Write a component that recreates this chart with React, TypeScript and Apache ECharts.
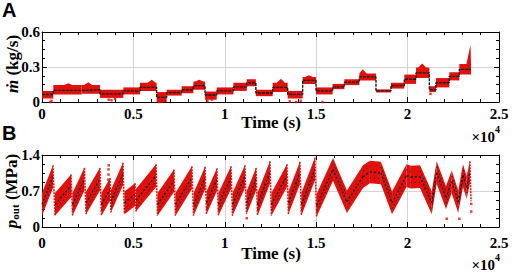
import React, { useEffect, useRef } from 'react';
import * as echarts from 'echarts';

// ---- tick labels ----
const xTickLabels = ['0', '0.5', '1', '1.5', '2', '2.5'];
const aTickLabels = ['0', '0.3', '0.6'];
const bTickLabels = ['0', '0.7', '1.4'];

// ---- Panel A: mass flow rate, piecewise levels (time in s, value in kg/s) ----
const aSegStart = [0, 620, 2170, 3170, 4450, 5360, 6270, 6820, 7640, 8280, 8920, 9560, 10470, 11200, 11700, 12620, 13440, 14260, 14990, 15900, 16540, 17360, 18270, 19090, 19820, 20460, 21190, 21550, 22280, 22830];
const aSegEnd = [620, 2170, 3170, 4450, 5360, 6270, 6820, 7640, 8280, 8920, 9560, 10470, 11200, 11700, 12620, 13440, 14260, 14990, 15900, 16540, 17360, 18270, 19090, 19820, 20460, 21190, 21550, 22280, 22830, 23470];
const aLevel = [0.064, 0.1, 0.105, 0.07, 0.095, 0.125, 0.04, 0.08, 0.105, 0.14, 0.06, 0.095, 0.13, 0.165, 0.077, 0.125, 0.065, 0.185, 0.095, 0.13, 0.17, 0.215, 0.095, 0.14, 0.195, 0.25, 0.105, 0.165, 0.22, 0.28];
const aLow = [0.03, 0.065, 0.07, 0.035, 0.065, 0.095, 0.0, 0.055, 0.075, 0.105, 0.02, 0.065, 0.095, 0.135, 0.05, 0.085, 0.03, 0.155, 0.065, 0.11, 0.145, 0.185, 0.082, 0.115, 0.155, 0.205, 0.085, 0.125, 0.185, 0.235];
const aHigh = [0.095, 0.145, 0.145, 0.105, 0.125, 0.165, 0.085, 0.105, 0.135, 0.175, 0.09, 0.125, 0.165, 0.195, 0.105, 0.165, 0.095, 0.215, 0.125, 0.155, 0.195, 0.245, 0.108, 0.165, 0.235, 0.295, 0.135, 0.205, 0.255, 0.325];
const aPeakT = [310, 1440, 2530, 3800, 4900, 6000, 6540, 7230, 7960, 8600, 9240, 10010, 10830, 11450, 12160, 13070, 13850, 14600, 15440, 16220, 16950, 17540, 18680, 19450, 20140, 20800, 21370, 21910, 22550, 23440];
const aPeak = [0.095, 0.16, 0.17, 0.105, 0.125, 0.19, 0.085, 0.105, 0.135, 0.19, 0.09, 0.125, 0.165, 0.195, 0.105, 0.2, 0.095, 0.23, 0.125, 0.155, 0.195, 0.28, 0.108, 0.165, 0.235, 0.33, 0.135, 0.205, 0.255, 0.49];
const aOutT = [450, 520, 3650, 3800, 4000, 6420, 6550, 9050, 9300, 13550, 13900, 14150, 15350, 21250];
const aOutV = [0.0, 0.01, 0.02, 0.015, 0.025, 0.0, 0.005, 0.01, 0.02, 0.005, 0.0, 0.01, 0.0, 0.07];

// ---- Panel B: outlet pressure, sawtooth vertices (time in s, value in MPa) ----
const bT = [0, 600, 710, 1590, 1670, 2320, 2410, 3170, 3250, 3720, 3770, 4430, 4510, 5090, 5140, 6240, 6320, 7220, 7300, 8200, 8290, 8920, 9000, 9570, 9650, 10340, 10420, 11100, 11190, 11710, 11790, 12470, 12550, 13400, 13480, 14110, 14190, 14930, 15020, 15920, 16680, 17560, 17940, 18540, 19150, 19940, 20180, 20680, 21320, 21590, 22100, 22410, 22770, 23030, 23230, 23410, 23470];
const bP = [0.22, 1.2, 0.22, 1.02, 0.22, 1.15, 0.25, 1.15, 0.22, 0.95, 0.28, 1.25, 0.25, 0.85, 0.3, 1.22, 0.22, 1.12, 0.22, 1.18, 0.22, 1.17, 0.25, 1.14, 0.22, 1.18, 0.22, 1.2, 0.25, 1.15, 0.22, 1.28, 0.22, 1.22, 0.25, 1.27, 0.22, 1.35, 0.2, 1.34, 0.27, 1.2, 0.85, 1.27, 0.25, 1.22, 0.75, 1.2, 0.25, 1.28, 0.35, 1.1, 0.27, 1.22, 0.55, 1.28, 0.5];
const bOutT = [3630, 3630, 3640, 3640, 3650, 11200, 22140, 22830, 23480, 23480];
const bOutV = [0.8, 0.92, 1.02, 1.12, 1.2, 0.17, 0.16, 0.16, 0.3, 0.45];

const RED = '#e0110d';
const SERIF = 'Liberation Serif';
const SANS = 'Liberation Sans';
const B_BAND = 0.44; // vertical spread of the scatter band, MPa

function xAxes(gridIndex: number, margin: number) {
  const common = {
    type: 'value' as const,
    gridIndex,
    min: 0,
    max: 25000,
    interval: 5000,
    axisLine: { show: true, onZero: false, lineStyle: { color: '#000', width: 1 } },
    axisTick: { show: true, inside: true, length: 5, lineStyle: { color: '#000', width: 1 } },
    minorTick: { show: true, splitNumber: 5, length: 3, lineStyle: { color: '#000', width: 1 } },
  };
  return [
    {
      ...common,
      position: 'bottom',
      splitLine: { show: true, lineStyle: { color: '#d4d4d4', width: 1 } },
      axisLabel: {
        show: true,
        margin,
        color: '#000',
        fontFamily: SERIF,
        fontWeight: 'bold',
        fontSize: 15,
        formatter: (v: number) => xTickLabels[Math.round(v / 5000)] ?? '',
      },
    },
    {
      ...common,
      position: 'top',
      splitLine: { show: false },
      axisLabel: { show: false },
    },
  ];
}

function yAxes(gridIndex: number, max: number, interval: number, labels: string[]) {
  const common = {
    type: 'value' as const,
    gridIndex,
    min: 0,
    max,
    interval,
    axisLine: { show: true, onZero: false, lineStyle: { color: '#000', width: 1 } },
    axisTick: { show: true, inside: true, length: 5, lineStyle: { color: '#000', width: 1 } },
    minorTick: { show: true, splitNumber: 4, length: 3, lineStyle: { color: '#000', width: 1 } },
  };
  return [
    {
      ...common,
      position: 'left',
      splitLine: { show: true, lineStyle: { color: '#d4d4d4', width: 1 } },
      axisLabel: {
        show: true,
        margin: 2,
        color: '#000',
        fontFamily: SERIF,
        fontWeight: 'bold',
        fontSize: 15,
        formatter: (v: number) => labels[Math.round(v / interval)] ?? '',
      },
    },
    {
      ...common,
      position: 'right',
      splitLine: { show: false },
      axisLabel: { show: false },
    },
  ];
}

export default function App() {
  const ref = useRef<HTMLDivElement>(null);

  useEffect(() => {
    const chart = echarts.init(ref.current!, null, { renderer: 'svg' });

    const aBands = aSegStart.map((t, i) => [t, aSegEnd[i], aLow[i], aHigh[i], aPeakT[i], aPeak[i]]);
    const aLine: number[][] = [];
    aSegStart.forEach((t, i) => {
      aLine.push([t, aLevel[i]]);
      aLine.push([aSegEnd[i], aLevel[i]]);
    });
    const bSegs = bT.slice(0, -1).map((t, i) => [t, bP[i], bT[i + 1], bP[i + 1]]);

    const option: any = {
      animation: false,
      backgroundColor: '#fff',
      grid: [
        { left: 42, top: 32, width: 457, height: 70 },
        { left: 42, top: 155, width: 457, height: 72 },
      ],
      xAxis: [...xAxes(0, 4), ...xAxes(1, 8)],
      yAxis: [...yAxes(0, 0.6, 0.3, aTickLabels), ...yAxes(1, 1.4, 0.7, bTickLabels)],
      series: [
        {
          type: 'custom',
          name: 'A band',
          xAxisIndex: 0,
          yAxisIndex: 0,
          silent: true,
          z: 2,
          encode: { x: [0, 1, 4], y: [2, 3, 5] },
          data: aBands,
          renderItem: (params: any, api: any) => {
            const t0 = api.value(0);
            const t1 = api.value(1);
            const lo = api.value(2);
            const hi = api.value(3);
            const tp = api.value(4);
            const pk = api.value(5);
            const w = 220;
            const pts = [
              [t0, lo],
              [t0, hi],
              [Math.max(t0, tp - w), hi],
              [tp, pk],
              [Math.min(t1, tp + w), hi],
              [t1, hi],
              [t1, lo],
            ].map((p) => api.coord(p));
            return { type: 'polygon', shape: { points: pts }, style: { fill: RED } };
          },
        },
        {
          type: 'line',
          name: 'A mean',
          xAxisIndex: 0,
          yAxisIndex: 0,
          data: aLine,
          symbol: 'none',
          z: 3,
          lineStyle: { color: '#1a1a1a', width: 1.4, type: [3, 1] },
        },
        {
          type: 'scatter',
          name: 'A outliers',
          xAxisIndex: 0,
          yAxisIndex: 0,
          data: aOutT.map((t, i) => [t, aOutV[i]]),
          symbol: 'rect',
          symbolSize: 2.5,
          itemStyle: { color: RED },
          z: 2,
        },
        {
          type: 'custom',
          name: 'B band',
          xAxisIndex: 2,
          yAxisIndex: 2,
          silent: true,
          z: 2,
          encode: { x: [0, 2], y: [1, 3] },
          data: bSegs,
          renderItem: (params: any, api: any) => {
            const t0 = api.value(0);
            const p0 = api.value(1);
            const t1 = api.value(2);
            const p1 = api.value(3);
            if (t1 - t0 < 150) {
              const a = api.coord([t0, p0]);
              const b = api.coord([t1, p1]);
              return {
                type: 'line',
                shape: { x1: a[0], y1: a[1], x2: b[0], y2: b[1] },
                style: { stroke: RED, lineWidth: 1.5, lineDash: [2, 1] },
              };
            }
            const s = p1 > p0 ? 1 : -1;
            const poly = [
              [t0, p0],
              [t0, p0 + s * B_BAND],
              [t1, p1],
              [t1, p1 - s * B_BAND],
            ].map((p) => api.coord(p));
            const c0 = api.coord([t0, p0 + (s * B_BAND) / 2]);
            const c1 = api.coord([t1, p1 - (s * B_BAND) / 2]);
            const d0 = api.coord([t0, p0 + (s * B_BAND) / 4]);
            const d1 = api.coord([t1, p1 - (s * B_BAND) * 0.75]);
            return {
              type: 'group',
              children: [
                { type: 'polygon', shape: { points: poly }, style: { fill: RED } },
                {
                  type: 'line',
                  shape: { x1: c0[0], y1: c0[1], x2: c1[0], y2: c1[1] },
                  style: { stroke: '#111', lineWidth: 1.4, lineDash: [2, 2] },
                },
                {
                  type: 'line',
                  shape: { x1: d0[0], y1: d0[1], x2: d1[0], y2: d1[1] },
                  style: { stroke: '#111', lineWidth: 1, lineDash: [1, 3] },
                },
              ],
            };
          },
        },
        {
          type: 'scatter',
          name: 'B outliers',
          xAxisIndex: 2,
          yAxisIndex: 2,
          data: bOutT.map((t, i) => [t, bOutV[i]]),
          symbol: 'rect',
          symbolSize: 2.5,
          itemStyle: { color: RED },
          z: 2,
        },
      ],
      graphic: [
        { type: 'text', left: 2, top: 0, style: { text: 'A', fontFamily: SANS, fontWeight: 'bold', fontSize: 20, fill: '#000' } },
        { type: 'text', left: 2, top: 123, style: { text: 'B', fontFamily: SANS, fontWeight: 'bold', fontSize: 20, fill: '#000' } },
        {
          type: 'text', x: 271, y: 122,
          style: { text: 'Time (s)', fontFamily: SERIF, fontWeight: 'bold', fontSize: 17, fill: '#000', align: 'center', verticalAlign: 'middle' },
        },
        {
          type: 'text', x: 271, y: 253,
          style: { text: 'Time (s)', fontFamily: SERIF, fontWeight: 'bold', fontSize: 17, fill: '#000', align: 'center', verticalAlign: 'middle' },
        },
        {
          type: 'text', x: 500, y: 134,
          style: {
            text: '{a|×10}{b|4}', align: 'right', verticalAlign: 'middle',
            rich: {
              a: { fontFamily: SERIF, fontWeight: 'bold', fontSize: 15, lineHeight: 20, verticalAlign: 'bottom', fill: '#000' },
              b: { fontFamily: SERIF, fontWeight: 'bold', fontSize: 10, lineHeight: 10, verticalAlign: 'top', fill: '#000' },
            },
          },
        },
        {
          type: 'text', x: 500, y: 262,
          style: {
            text: '{a|×10}{b|4}', align: 'right', verticalAlign: 'middle',
            rich: {
              a: { fontFamily: SERIF, fontWeight: 'bold', fontSize: 15, lineHeight: 20, verticalAlign: 'bottom', fill: '#000' },
              b: { fontFamily: SERIF, fontWeight: 'bold', fontSize: 10, lineHeight: 10, verticalAlign: 'top', fill: '#000' },
            },
          },
        },
        {
          type: 'text', x: 12, y: 64, rotation: Math.PI / 2,
          style: {
            text: '{m|ṁ}{n| (kg/s)}', align: 'center', verticalAlign: 'middle',
            rich: {
              m: { fontFamily: SERIF, fontWeight: 'bold', fontStyle: 'italic', fontSize: 17, fill: '#000' },
              n: { fontFamily: SERIF, fontWeight: 'bold', fontSize: 17, fill: '#000' },
            },
          },
        },
        {
          type: 'text', x: 11, y: 191, rotation: Math.PI / 2,
          style: {
            text: '{p|p}{s|out}{n| (MPa)}', align: 'center', verticalAlign: 'middle',
            rich: {
              p: { fontFamily: SERIF, fontWeight: 'bold', fontStyle: 'italic', fontSize: 17, lineHeight: 19, verticalAlign: 'middle', fill: '#000' },
              s: { fontFamily: SERIF, fontWeight: 'bold', fontSize: 11, lineHeight: 11, padding: [8, 0, 0, 0], verticalAlign: 'bottom', fill: '#000' },
              n: { fontFamily: SERIF, fontWeight: 'bold', fontSize: 17, lineHeight: 19, verticalAlign: 'middle', fill: '#000' },
            },
          },
        },
      ],
    };

    chart.setOption(option);
    return () => chart.dispose();
  }, []);

  return (
    <div
      ref={ref}
      style={{ position: 'fixed', left: 0, top: 0, width: 512, height: 272, background: '#fff' }}
    />
  );
}
